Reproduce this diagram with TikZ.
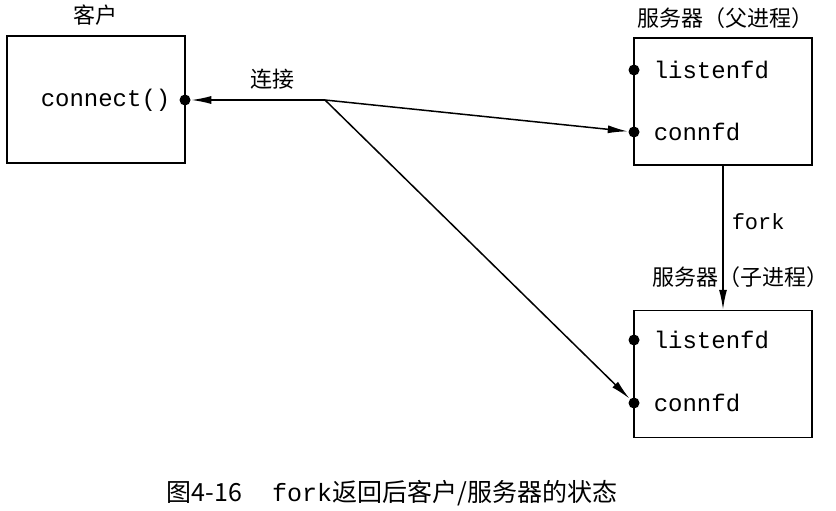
\documentclass[tikz,border=0pt]{standalone}
\usepackage{fontspec}
\setmonofont{Liberation Mono}
\newfontfamily\cjk{Noto Sans CJK SC}
\usetikzlibrary{arrows.meta}
\begin{document}
\begin{tikzpicture}[x=1pt,y=-1pt, line width=1.5pt,
  box/.style={draw, minimum width=178pt, minimum height=127pt, inner sep=0},
  dot/.style={circle, fill, inner sep=0, minimum size=11pt},
  code/.style={font=\ttfamily\fontsize{24}{24}\selectfont, anchor=west, inner sep=0},
  zh/.style={font=\cjk\fontsize{22}{22}\selectfont, inner sep=0},
  arr/.style={-{Latex[length=20pt,width=8pt]}}]
\useasboundingbox (0,0) rectangle (836,511);
% client
\node[box] (client) at (96,99.5) {};
\node[zh] (clientlbl) at (95,15) {客户};
\node[code] (connect) at (40,100) {connect()};
\node[dot] (cdot) at (185,100) {};
% parent
\node[box] (parent) at (723,101.5) {};
\node[zh] (plbl) at (725,18) {服务器（父进程）};
\node[dot] (pl) at (634,70) {};
\node[dot] (pc) at (634,132) {};
\node[code] (pltxt) at (653,70) {listenfd};
\node[code] (pctxt) at (653,132) {connfd};
% child
\node[box] (child) at (723,374) {};
\node[zh] (clbl) at (740,277) {服务器（子进程）};
\node[dot] (cl) at (634,340) {};
\node[dot] (cc) at (634,403) {};
\node[code] (cltxt) at (653,340) {listenfd};
\node[code] (cctxt) at (653,403) {connfd};
% connections
\coordinate (J) at (325,100);
\node[zh] (lianjie) at (272,79) {连接};
\draw[arr] (J) -- (cdot);
\draw[arr] (J) -- (pc);
\draw[arr] (J) -- (cc);
\draw[arr] (parent.south) -- (child.north);
\node[code, font=\ttfamily\fontsize{22}{22}\selectfont] (fork) at (731,222) {fork};
% caption
\node[inner sep=0, font=\fontsize{25}{25}\selectfont] (caption) at (392,493)
  {{\cjk 图4-16}\hspace{30pt}{\ttfamily fork}{\cjk 返回后客户/服务器的状态}};
\end{tikzpicture}
\end{document}
